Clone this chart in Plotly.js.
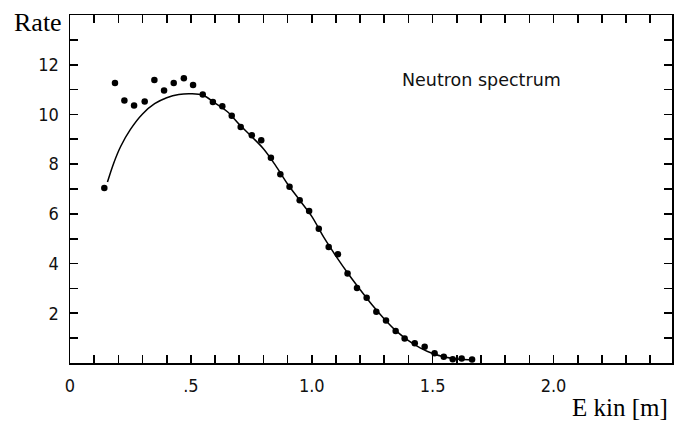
<!DOCTYPE html>
<html>
<head>
<meta charset="utf-8">
<script src="https://cdn.plot.ly/plotly-3.0.1.min.js"></script>
<style>html,body{margin:0;padding:0;background:#fff;}#chart{width:680px;height:422px;}</style>
</head>
<body>
<div id="chart"></div>
<script>
// measured data points (E_kin, rate)
const pointsX = [0.142,0.186,0.225,0.265,0.309,0.349,0.389,0.429,0.471,0.509,0.549,0.591,0.630,0.669,0.706,0.752,0.791,0.831,0.870,0.908,0.950,0.989,1.029,1.070,1.108,1.148,1.187,1.227,1.267,1.307,1.347,1.384,1.426,1.467,1.508,1.546,1.583,1.620,1.663];
const pointsY = [7.04,11.26,10.56,10.36,10.52,11.39,10.96,11.26,11.46,11.18,10.80,10.50,10.33,9.95,9.49,9.16,8.96,8.26,7.59,7.09,6.55,6.11,5.40,4.67,4.38,3.60,3.02,2.62,2.06,1.71,1.29,0.99,0.79,0.65,0.39,0.25,0.15,0.18,0.14];
// fitted curve
const fitX = [0.155,0.18,0.21,0.25,0.30,0.35,0.40,0.45,0.50,0.55,0.60,0.65,0.70,0.75,0.80,0.85,0.90,0.95,1.00,1.05,1.10,1.15,1.20,1.25,1.30,1.35,1.40,1.45,1.50,1.55,1.60,1.67];
const fitY = [7.28,8.02,8.72,9.40,10.02,10.43,10.67,10.80,10.83,10.77,10.45,10.12,9.60,9.12,8.62,7.95,7.20,6.55,5.90,5.05,4.30,3.60,2.95,2.33,1.77,1.28,0.90,0.60,0.38,0.24,0.16,0.12];
// tick labels
const xTickVals = [0,0.1,0.2,0.3,0.4,0.5,0.6,0.7,0.8,0.9,1.0,1.1,1.2,1.3,1.4,1.5,1.6,1.7,1.8,1.9,2.0,2.1,2.2,2.3,2.4];
const xTickText = ["0","","","","",".5","","","","","1.0","","","","","1.5","","","","","2.0","","","",""];
const yTickVals = [1,2,3,4,5,6,7,8,9,10,11,12,13];
const yTickText = ["","2","","4","","6","","8","","10","","12",""];

const tickFont = {family: "DejaVu Sans Condensed, DejaVu Sans, sans-serif", size: 18, color: "#111"};

const traces = [
  {x: fitX, y: fitY, mode: "lines", type: "scatter", line: {color: "#000", width: 1.5, shape: "spline", smoothing: 1}, hoverinfo: "skip"},
  {x: pointsX, y: pointsY, mode: "markers", type: "scatter", marker: {color: "#000", size: 6.5}}
];

const axisCommon = {
  tickmode: "array", ticks: "inside", ticklen: 8, tickwidth: 1.6, tickcolor: "black",
  showline: true, linecolor: "black", linewidth: 1.5, mirror: "allticks",
  showgrid: false, zeroline: false, tickfont: tickFont, ticklabelstandoff: 6
};

const layout = {
  width: 680, height: 422,
  margin: {l: 70, r: 8, t: 15, b: 59},
  paper_bgcolor: "#fff", plot_bgcolor: "#fff",
  showlegend: false,
  xaxis: Object.assign({range: [0, 2.49], tickvals: xTickVals, ticktext: xTickText}, axisCommon),
  yaxis: Object.assign({range: [0, 14], tickvals: yTickVals, ticktext: yTickText}, axisCommon),
  annotations: [
    {text: "Rate", xref: "paper", yref: "paper", x: 0, y: 1.0, xanchor: "right", yanchor: "middle", showarrow: false,
     font: {family: "Liberation Serif, serif", size: 26, color: "#000"}, xshift: -6, yshift: -7},
    {text: "E kin [m]", xref: "paper", yref: "paper", x: 1.0, y: 0, xanchor: "right", yanchor: "top", showarrow: false,
     font: {family: "Liberation Serif, serif", size: 25, color: "#000"}, xshift: -2, yshift: -29},
    {text: "Neutron spectrum", xref: "x", yref: "y", x: 1.70, y: 11.37, xanchor: "center", yanchor: "middle", showarrow: false,
     font: {family: "DejaVu Sans, sans-serif", size: 17.5, color: "#111"}}
  ]
};

Plotly.newPlot("chart", traces, layout, {staticPlot: true});
</script>
</body>
</html>
